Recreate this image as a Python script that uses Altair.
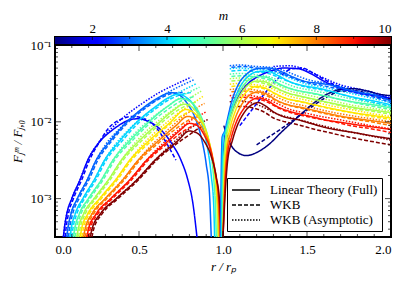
import altair as alt
import pandas as pd

# ---------------- data (x = r/r_p, values are log10(F_J^m / F_J,0)) ----------------
M_VALUES = [1, 2, 3, 4, 5, 6, 7, 8, 9, 10]
COLORS = ["#000080", "#0000ff", "#0063ff", "#00d4ff", "#4effa9",
          "#a9ff4e", "#ffe600", "#ff7d00", "#ff1400", "#800000"]
KINDS = ["Linear Theory (Full)", "WKB", "WKB (Asymptotic)"]

X_MAJOR = [0.0, 0.5, 1.0, 1.5, 2.0]
X_MINOR = [0.1, 0.2, 0.3, 0.4, 0.6, 0.7, 0.8, 0.9, 1.1, 1.2, 1.3, 1.4, 1.6, 1.7, 1.8, 1.9]
Y_MAJOR = [1e-3, 1e-2, 1e-1]
Y_MINOR = [4e-4, 5e-4, 6e-4, 7e-4, 8e-4, 9e-4,
           2e-3, 3e-3, 4e-3, 5e-3, 6e-3, 7e-3, 8e-3, 9e-3,
           2e-2, 3e-2, 4e-2, 5e-2, 6e-2, 7e-2, 8e-2, 9e-2]
CB_MAJOR = [2, 4, 6, 8]
CB_MINOR = [3, 5, 7, 9]

solid_inner = {
    2: [(.05, -3.5), (.055, -3.4), (.07, -3.2), (.10, -3.0), (.15, -2.75), (.195, -2.5), (.27, -2.25), (.34, -2.11), (.4, -2.02), (.45, -1.97), (.5, -1.96), (.55, -1.99), (.6, -2.05), (.65, -2.15), (.7, -2.3), (.75, -2.5), (.79, -2.75), (.82, -3.05), (.845, -3.5)],
    3: [(.07, -3.5), (.076, -3.4), (.095, -3.2), (.133, -3.0), (.193, -2.75), (.245, -2.5), (.328, -2.25), (.42, -2.02), (.53, -1.81), (.62, -1.68), (.69, -1.62), (.74, -1.65), (.79, -1.77), (.84, -1.98), (.87, -2.2), (.9, -2.55), (.92, -2.95), (.93, -3.5)],
    4: [(.09, -3.5), (.096, -3.4), (.12, -3.2), (.166, -3.0), (.235, -2.75), (.295, -2.5), (.385, -2.25), (.48, -2.02), (.6, -1.8), (.68, -1.68), (.73, -1.64), (.78, -1.68), (.83, -1.8), (.87, -2.0), (.9, -2.25), (.93, -2.7), (.945, -3.1), (.95, -3.5)],
    5: [(.11, -3.5), (.117, -3.4), (.145, -3.2), (.199, -3.0), (.278, -2.75), (.345, -2.5), (.443, -2.25), (.55, -2.02), (.67, -1.8), (.75, -1.7), (.8, -1.73), (.85, -1.85), (.89, -2.05), (.92, -2.3), (.945, -2.75), (.955, -3.1), (.96, -3.5)],
    6: [(.13, -3.5), (.138, -3.4), (.17, -3.2), (.233, -3.0), (.32, -2.75), (.395, -2.5), (.5, -2.25), (.615, -2.02), (.7, -1.86), (.77, -1.77), (.81, -1.8), (.86, -1.93), (.9, -2.12), (.93, -2.4), (.955, -2.8), (.965, -3.1), (.97, -3.5)],
    7: [(.15, -3.5), (.158, -3.4), (.195, -3.2), (.266, -3.0), (.363, -2.75), (.445, -2.5), (.558, -2.25), (.68, -2.02), (.78, -1.84), (.82, -1.87), (.87, -2.0), (.91, -2.2), (.94, -2.5), (.96, -2.85), (.97, -3.15), (.975, -3.5)],
    8: [(.17, -3.5), (.179, -3.4), (.22, -3.2), (.299, -3.0), (.405, -2.75), (.495, -2.5), (.615, -2.25), (.72, -2.05), (.79, -1.93), (.83, -1.96), (.88, -2.1), (.92, -2.3), (.95, -2.6), (.97, -2.95), (.98, -3.5)],
    9: [(.19, -3.5), (.199, -3.4), (.245, -3.2), (.332, -3.0), (.448, -2.75), (.545, -2.5), (.673, -2.25), (.75, -2.1), (.8, -2.02), (.84, -2.04), (.89, -2.18), (.93, -2.4), (.955, -2.68), (.975, -3.0), (.985, -3.5)],
    10: [(.21, -3.5), (.22, -3.4), (.27, -3.2), (.365, -3.0), (.49, -2.75), (.595, -2.5), (.73, -2.25), (.8, -2.12), (.84, -2.14), (.89, -2.26), (.93, -2.45), (.96, -2.72), (.98, -3.05), (.99, -3.5)],
}

dashed_inner = {
    2: [(.06, -3.5), (.065, -3.4), (.08, -3.2), (.11, -3.0), (.16, -2.75), (.205, -2.5), (.26, -2.28), (.32, -2.08), (.4, -1.96), (.46, -1.93), (.52, -1.95), (.6, -2.07), (.67, -2.3), (.72, -2.5)],
    3: [(.08, -3.5), (.086, -3.4), (.105, -3.2), (.143, -3.0), (.203, -2.75), (.255, -2.5), (.338, -2.25), (.43, -2.02), (.54, -1.82), (.63, -1.69), (.7, -1.63), (.76, -1.62)],
    4: [(.10, -3.5), (.106, -3.4), (.13, -3.2), (.176, -3.0), (.245, -2.75), (.305, -2.5), (.395, -2.26), (.49, -2.03), (.6, -1.83), (.69, -1.7), (.76, -1.64), (.81, -1.62)],
    5: [(.12, -3.5), (.127, -3.4), (.155, -3.2), (.209, -3.0), (.288, -2.75), (.355, -2.5), (.453, -2.26), (.56, -2.03), (.67, -1.84), (.76, -1.72), (.83, -1.67)],
    6: [(.14, -3.5), (.148, -3.4), (.18, -3.2), (.243, -3.0), (.33, -2.75), (.405, -2.5), (.51, -2.26), (.625, -2.03), (.71, -1.88), (.79, -1.78), (.85, -1.74)],
    7: [(.16, -3.5), (.168, -3.4), (.205, -3.2), (.276, -3.0), (.373, -2.75), (.455, -2.5), (.568, -2.26), (.68, -2.04), (.77, -1.9), (.86, -1.82)],
    8: [(.18, -3.5), (.189, -3.4), (.23, -3.2), (.309, -3.0), (.415, -2.75), (.505, -2.5), (.625, -2.26), (.72, -2.09), (.8, -1.97), (.87, -1.9)],
    9: [(.2, -3.5), (.209, -3.4), (.255, -3.2), (.342, -3.0), (.458, -2.75), (.555, -2.5), (.683, -2.26), (.76, -2.13), (.83, -2.04), (.88, -1.99)],
    10: [(.22, -3.5), (.23, -3.4), (.28, -3.2), (.375, -3.0), (.5, -2.75), (.605, -2.5), (.74, -2.26), (.8, -2.17), (.86, -2.08), (.89, -2.05)],
}

dotted_inner = {
    2: [(.05, -3.5), (.055, -3.4), (.07, -3.2), (.10, -3.0), (.15, -2.75), (.195, -2.5), (.25, -2.3), (.33, -2.1), (.42, -1.92), (.52, -1.76), (.62, -1.62), (.72, -1.51), (.81, -1.42)],
    3: [(.07, -3.5), (.076, -3.4), (.095, -3.2), (.133, -3.0), (.193, -2.75), (.245, -2.5), (.3, -2.3), (.38, -2.1), (.47, -1.92), (.57, -1.76), (.67, -1.62), (.75, -1.53), (.83, -1.45)],
    4: [(.09, -3.5), (.096, -3.4), (.12, -3.2), (.166, -3.0), (.235, -2.75), (.295, -2.5), (.35, -2.32), (.43, -2.12), (.52, -1.94), (.62, -1.78), (.71, -1.65), (.78, -1.57), (.845, -1.5)],
    5: [(.11, -3.5), (.117, -3.4), (.145, -3.2), (.199, -3.0), (.278, -2.75), (.345, -2.5), (.4, -2.33), (.48, -2.14), (.57, -1.96), (.67, -1.8), (.76, -1.66), (.86, -1.55)],
    6: [(.13, -3.5), (.138, -3.4), (.17, -3.2), (.233, -3.0), (.32, -2.75), (.395, -2.5), (.45, -2.34), (.53, -2.15), (.62, -1.98), (.71, -1.83), (.79, -1.71), (.87, -1.6)],
    7: [(.15, -3.5), (.158, -3.4), (.195, -3.2), (.266, -3.0), (.363, -2.75), (.445, -2.5), (.5, -2.35), (.58, -2.17), (.67, -2.0), (.75, -1.86), (.82, -1.76), (.88, -1.67)],
    8: [(.17, -3.5), (.179, -3.4), (.22, -3.2), (.299, -3.0), (.405, -2.75), (.495, -2.5), (.55, -2.36), (.63, -2.19), (.71, -2.03), (.78, -1.9), (.84, -1.82), (.89, -1.76)],
    9: [(.19, -3.5), (.199, -3.4), (.245, -3.2), (.332, -3.0), (.448, -2.75), (.545, -2.5), (.6, -2.37), (.68, -2.21), (.75, -2.08), (.81, -1.98), (.86, -1.92), (.9, -1.87)],
    10: [(.21, -3.5), (.22, -3.4), (.27, -3.2), (.365, -3.0), (.49, -2.75), (.595, -2.5), (.65, -2.38), (.72, -2.24), (.78, -2.12), (.84, -2.04), (.88, -2.0), (.91, -1.97)],
}

solid_outer = {
    1: [(1.005, -2.05), (1.03, -2.22), (1.07, -2.37), (1.14, -2.44), (1.2, -2.4), (1.27, -2.3), (1.35, -2.13), (1.45, -1.93), (1.55, -1.74), (1.62, -1.64), (1.7, -1.58), (1.78, -1.57), (1.86, -1.6), (1.93, -1.64), (2.0, -1.66)],
    2: [(0.99, -3.5), (1.0, -2.6), (1.01, -2.2), (1.03, -2.0), (1.06, -1.82), (1.1, -1.64), (1.15, -1.5), (1.2, -1.42), (1.27, -1.35), (1.36, -1.3), (1.45, -1.31), (1.52, -1.37), (1.6, -1.47), (1.68, -1.55), (1.76, -1.6), (1.85, -1.64), (1.93, -1.66), (2.0, -1.7)],
    3: [(0.985, -3.5), (0.99, -2.6), (0.995, -2.2), (1.01, -2.12), (1.025, -1.98), (1.05, -1.75), (1.09, -1.52), (1.14, -1.38), (1.2, -1.31), (1.27, -1.3), (1.34, -1.34), (1.42, -1.42), (1.5, -1.48), (1.58, -1.5), (1.66, -1.53), (1.74, -1.58), (1.82, -1.62), (1.9, -1.65), (2.0, -1.73)],
    4: [(0.99, -3.5), (0.995, -2.6), (1.0, -2.2), (1.015, -2.12), (1.03, -1.98), (1.06, -1.76), (1.1, -1.55), (1.15, -1.41), (1.2, -1.35), (1.26, -1.34), (1.33, -1.4), (1.4, -1.48), (1.48, -1.53), (1.56, -1.56), (1.64, -1.6), (1.72, -1.65), (1.8, -1.69), (1.9, -1.73), (2.0, -1.78)],
    5: [(0.995, -3.5), (1.0, -2.7), (1.01, -2.3), (1.03, -2.02), (1.06, -1.8), (1.1, -1.6), (1.15, -1.46), (1.2, -1.41), (1.26, -1.42), (1.32, -1.49), (1.39, -1.56), (1.46, -1.6), (1.54, -1.63), (1.62, -1.67), (1.7, -1.71), (1.8, -1.75), (1.9, -1.78), (2.0, -1.82)],
    6: [(1.0, -3.5), (1.005, -2.7), (1.015, -2.3), (1.035, -2.05), (1.065, -1.83), (1.1, -1.66), (1.15, -1.52), (1.2, -1.47), (1.25, -1.48), (1.31, -1.55), (1.38, -1.62), (1.45, -1.66), (1.53, -1.7), (1.61, -1.74), (1.7, -1.78), (1.8, -1.82), (1.9, -1.85), (2.0, -1.88)],
    7: [(1.0, -3.5), (1.008, -2.75), (1.02, -2.35), (1.04, -2.1), (1.07, -1.88), (1.1, -1.73), (1.15, -1.59), (1.2, -1.54), (1.25, -1.56), (1.31, -1.63), (1.38, -1.7), (1.45, -1.73), (1.53, -1.77), (1.61, -1.81), (1.7, -1.85), (1.8, -1.89), (1.9, -1.92), (2.0, -1.95)],
    8: [(1.0, -3.5), (1.01, -2.8), (1.022, -2.4), (1.045, -2.15), (1.075, -1.94), (1.11, -1.78), (1.16, -1.65), (1.21, -1.61), (1.26, -1.64), (1.32, -1.72), (1.39, -1.78), (1.46, -1.81), (1.54, -1.85), (1.62, -1.89), (1.71, -1.93), (1.8, -1.96), (1.9, -1.99), (2.0, -2.02)],
    9: [(1.0, -3.5), (1.012, -2.85), (1.025, -2.45), (1.05, -2.2), (1.08, -2.0), (1.12, -1.84), (1.17, -1.72), (1.21, -1.69), (1.26, -1.72), (1.32, -1.8), (1.39, -1.86), (1.46, -1.9), (1.54, -1.94), (1.62, -1.98), (1.71, -2.01), (1.8, -2.04), (1.9, -2.07), (2.0, -2.1)],
    10: [(1.0, -3.5), (1.014, -2.9), (1.028, -2.5), (1.055, -2.25), (1.085, -2.05), (1.12, -1.9), (1.17, -1.78), (1.21, -1.75), (1.25, -1.79), (1.3, -1.87), (1.37, -1.94), (1.44, -1.97), (1.52, -2.02), (1.6, -2.07), (1.69, -2.11), (1.78, -2.14), (1.88, -2.18), (2.0, -2.22)],
}

dashed_outer = {
    1: [(1.2, -2.3), (1.34, -2.1), (1.48, -1.88), (1.625, -1.67), (1.7, -1.6), (1.8, -1.6), (1.9, -1.66), (2.0, -1.7)],
    2: [(1.1, -2.05), (1.17, -1.85), (1.26, -1.6), (1.35, -1.39), (1.41, -1.31), (1.47, -1.3), (1.54, -1.37), (1.62, -1.47), (1.7, -1.55), (1.78, -1.6), (1.87, -1.65), (2.0, -1.72)],
    3: [(1.05, -1.29), (1.12, -1.28), (1.2, -1.3), (1.28, -1.32), (1.36, -1.38), (1.44, -1.45), (1.52, -1.5), (1.6, -1.53), (1.7, -1.58), (1.8, -1.63), (1.9, -1.68), (2.0, -1.75)],
    4: [(1.05, -1.34), (1.12, -1.33), (1.2, -1.35), (1.27, -1.37), (1.34, -1.43), (1.42, -1.5), (1.5, -1.55), (1.6, -1.59), (1.7, -1.64), (1.8, -1.7), (1.9, -1.75), (2.0, -1.8)],
    5: [(1.05, -1.41), (1.12, -1.4), (1.2, -1.42), (1.27, -1.45), (1.34, -1.52), (1.42, -1.58), (1.5, -1.62), (1.6, -1.66), (1.7, -1.71), (1.8, -1.76), (1.9, -1.8), (2.0, -1.84)],
    6: [(1.05, -1.47), (1.12, -1.46), (1.2, -1.48), (1.26, -1.51), (1.33, -1.58), (1.4, -1.64), (1.48, -1.68), (1.56, -1.72), (1.66, -1.77), (1.76, -1.82), (1.88, -1.86), (2.0, -1.9)],
    7: [(1.05, -1.54), (1.12, -1.53), (1.2, -1.55), (1.26, -1.58), (1.33, -1.66), (1.4, -1.71), (1.48, -1.75), (1.56, -1.79), (1.66, -1.84), (1.76, -1.88), (1.88, -1.93), (2.0, -1.97)],
    8: [(1.05, -1.61), (1.12, -1.6), (1.2, -1.62), (1.26, -1.66), (1.33, -1.74), (1.4, -1.79), (1.48, -1.83), (1.56, -1.87), (1.66, -1.92), (1.76, -1.96), (1.88, -2.0), (2.0, -2.05)],
    9: [(1.05, -1.69), (1.12, -1.68), (1.2, -1.7), (1.26, -1.74), (1.33, -1.82), (1.4, -1.88), (1.48, -1.92), (1.56, -1.96), (1.66, -2.0), (1.76, -2.05), (1.88, -2.09), (2.0, -2.14)],
    10: [(1.05, -1.8), (1.12, -1.8), (1.18, -1.82), (1.25, -1.88), (1.3, -1.95), (1.37, -2.0), (1.45, -2.04), (1.55, -2.1), (1.65, -2.15), (1.75, -2.2), (1.87, -2.25), (2.0, -2.3)],
}

dotted_outer = {
    2: [(1.3, -1.28), (1.4, -1.27), (1.5, -1.33), (1.6, -1.43), (1.7, -1.52), (1.8, -1.57), (1.9, -1.62), (2.0, -1.69)],
    3: [(1.04, -1.27), (1.1, -1.26), (1.2, -1.28), (1.28, -1.29), (1.36, -1.33), (1.44, -1.4), (1.52, -1.46), (1.6, -1.49), (1.7, -1.54), (1.8, -1.59), (1.9, -1.63), (2.0, -1.7)],
    4: [(1.04, -1.31), (1.1, -1.3), (1.2, -1.32), (1.27, -1.33), (1.34, -1.38), (1.42, -1.45), (1.5, -1.51), (1.6, -1.55), (1.7, -1.6), (1.8, -1.65), (1.9, -1.7), (2.0, -1.75)],
    5: [(1.04, -1.38), (1.1, -1.37), (1.2, -1.39), (1.27, -1.41), (1.34, -1.47), (1.42, -1.54), (1.5, -1.58), (1.6, -1.62), (1.7, -1.67), (1.8, -1.72), (1.9, -1.76), (2.0, -1.8)],
    6: [(1.04, -1.44), (1.1, -1.43), (1.2, -1.45), (1.26, -1.47), (1.33, -1.53), (1.4, -1.6), (1.48, -1.64), (1.56, -1.68), (1.66, -1.73), (1.76, -1.78), (1.88, -1.82), (2.0, -1.86)],
    7: [(1.04, -1.51), (1.1, -1.5), (1.2, -1.52), (1.26, -1.54), (1.33, -1.61), (1.4, -1.67), (1.48, -1.71), (1.56, -1.75), (1.66, -1.8), (1.76, -1.84), (1.88, -1.89), (2.0, -1.93)],
    8: [(1.04, -1.58), (1.1, -1.57), (1.2, -1.59), (1.26, -1.62), (1.33, -1.69), (1.4, -1.75), (1.48, -1.79), (1.56, -1.83), (1.66, -1.88), (1.76, -1.92), (1.88, -1.96), (2.0, -2.0)],
    9: [(1.04, -1.66), (1.1, -1.65), (1.2, -1.67), (1.26, -1.7), (1.33, -1.77), (1.4, -1.84), (1.48, -1.88), (1.56, -1.92), (1.66, -1.96), (1.76, -2.0), (1.88, -2.05), (2.0, -2.09)],
    10: [(1.04, -1.74), (1.1, -1.73), (1.18, -1.76), (1.25, -1.82), (1.3, -1.88), (1.37, -1.93), (1.45, -1.97), (1.55, -2.03), (1.65, -2.08), (1.75, -2.13), (1.87, -2.18), (2.0, -2.24)],
}

# ---------------- build the long table ----------------
rows = []
def add(group, kind, region):
    for m, pts in group.items():
        for i, (x, ly) in enumerate(pts):
            rows.append({"x": x, "y": 10 ** ly, "m": m, "kind": kind,
                         "id": f"{region}-{kind}-{m}", "o": i})

add(dotted_inner, KINDS[2], "in")
add(dotted_outer, KINDS[2], "out")
add(dashed_inner, KINDS[1], "in")
add(dashed_outer, KINDS[1], "out")
add(solid_inner, KINDS[0], "in")
add(solid_outer, KINDS[0], "out")
df = pd.DataFrame(rows)

W, H = 336, 192
CB_H = 8
FONT = "Liberation Serif"

xscale = alt.Scale(domain=[0, 2], nice=False, zero=False)
yscale = alt.Scale(type="log", domain=[10 ** -3.5, 0.1], nice=False)
cscale = alt.Scale(domain=[1, 10], nice=False, zero=False)

X_AXIS = alt.Axis(values=X_MAJOR, format=".1f", title="r / rₚ", ticks=False, tickSize=0,
                  domain=False, grid=False, labelPadding=6, titlePadding=4,
                  titleFontStyle="italic")
Y_AXIS = alt.Axis(values=Y_MAJOR, ticks=False, tickSize=0, domain=False, grid=False,
                  labelExpr="datum.value > 0.05 ? '10⁻¹' : (datum.value > 0.005 ? '10⁻²' : '10⁻³')",
                  title="Fⱼᵐ / Fⱼ,₀", titleFontStyle="italic", labelPadding=4, titlePadding=6)
C_AXIS = alt.Axis(orient="top", values=[2, 4, 6, 8, 10], format="d", title="m",
                  titleFontStyle="italic", ticks=False, tickSize=0, domain=False,
                  grid=False, labelPadding=2, titlePadding=0)

lines = alt.Chart(df).mark_line(strokeWidth=1.5, clip=True, interpolate="monotone").encode(
    x=alt.X("x:Q", scale=xscale, axis=X_AXIS),
    y=alt.Y("y:Q", scale=yscale, axis=Y_AXIS),
    color=alt.Color("m:O", scale=alt.Scale(domain=M_VALUES, range=COLORS), legend=None),
    strokeDash=alt.StrokeDash("kind:N", scale=alt.Scale(domain=KINDS, range=[[1, 0], [4, 2], [1.5, 1.5]]),
                              legend=alt.Legend(title=None, orient="none", legendX=172, legendY=141,
                                                symbolType="M-2,0H2", symbolSize=196, symbolOffset=7,
                                                symbolStrokeColor="black", symbolStrokeWidth=1.6,
                                                symbolFillColor="transparent",
                                                fillColor="white", strokeColor="black",
                                                padding=4, rowPadding=0, labelOffset=16,
                                                labelFont=FONT, labelFontSize=13, cornerRadius=0)),
    detail="id:N",
    order="o:Q",
)

def xticks(vals, size, ypos):
    return alt.Chart(pd.DataFrame({"x": vals})).mark_tick(
        color="black", thickness=1, size=size, orient="vertical").encode(
        x=alt.X("x:Q", scale=xscale, axis=X_AXIS), y=alt.value(ypos))

def yticks(vals, size, xpos):
    return alt.Chart(pd.DataFrame({"y": vals})).mark_tick(
        color="black", thickness=1, size=size, orient="horizontal").encode(
        y=alt.Y("y:Q", scale=yscale, axis=Y_AXIS), x=alt.value(xpos))

main = alt.layer(
    lines,
    xticks(X_MAJOR, 6, H - 3), xticks(X_MINOR, 3, H - 1.5),
    xticks(X_MAJOR, 6, 3), xticks(X_MINOR, 3, 1.5),
    yticks(Y_MAJOR, 6, 3), yticks(Y_MINOR, 3, 1.5),
    yticks(Y_MAJOR, 6, W - 3), yticks(Y_MINOR, 3, W - 1.5),
).properties(width=W, height=H)

JET = [(0.0, "#000080"), (0.11, "#0000ff"), (0.125, "#0000ff"), (0.34, "#00dbff"),
       (0.35, "#00e6f7"), (0.375, "#14ffe2"), (0.64, "#eeff08"), (0.65, "#f7f500"),
       (0.66, "#ffec00"), (0.89, "#ff1300"), (0.91, "#e80000"), (1.0, "#800000")]
gradient = {"gradient": "linear", "x1": 0, "x2": 1, "y1": 0, "y2": 0,
            "stops": [{"offset": o, "color": c} for o, c in JET]}

cbar_rect = alt.Chart(pd.DataFrame({"c": [1], "c2": [10]})).mark_rect(fill=gradient).encode(
    x=alt.X("c:Q", scale=cscale, axis=C_AXIS),
    x2="c2:Q", y=alt.value(0), y2=alt.value(CB_H))

def cticks(vals, size):
    return alt.Chart(pd.DataFrame({"c": vals})).mark_tick(
        color="black", thickness=1, size=size, orient="vertical").encode(
        x=alt.X("c:Q", scale=cscale, axis=C_AXIS), y=alt.value(size / 2))

cbar = alt.layer(cbar_rect, cticks(CB_MAJOR, 3), cticks(CB_MINOR, 2)).properties(width=W, height=CB_H)

chart = alt.vconcat(cbar, main, spacing=0).properties(
    bounds="flush", padding={"left": 2, "top": 0, "right": 5, "bottom": 0}
).configure_view(stroke="black", strokeWidth=2).configure_axis(
    labelFont=FONT, labelFontSize=13, titleFont=FONT, titleFontSize=13,
    titleFontWeight="normal", labelColor="black", titleColor="black"
).configure_legend(labelColor="black")

chart.save("out.html", embed_options={"renderer": "svg", "actions": False})
